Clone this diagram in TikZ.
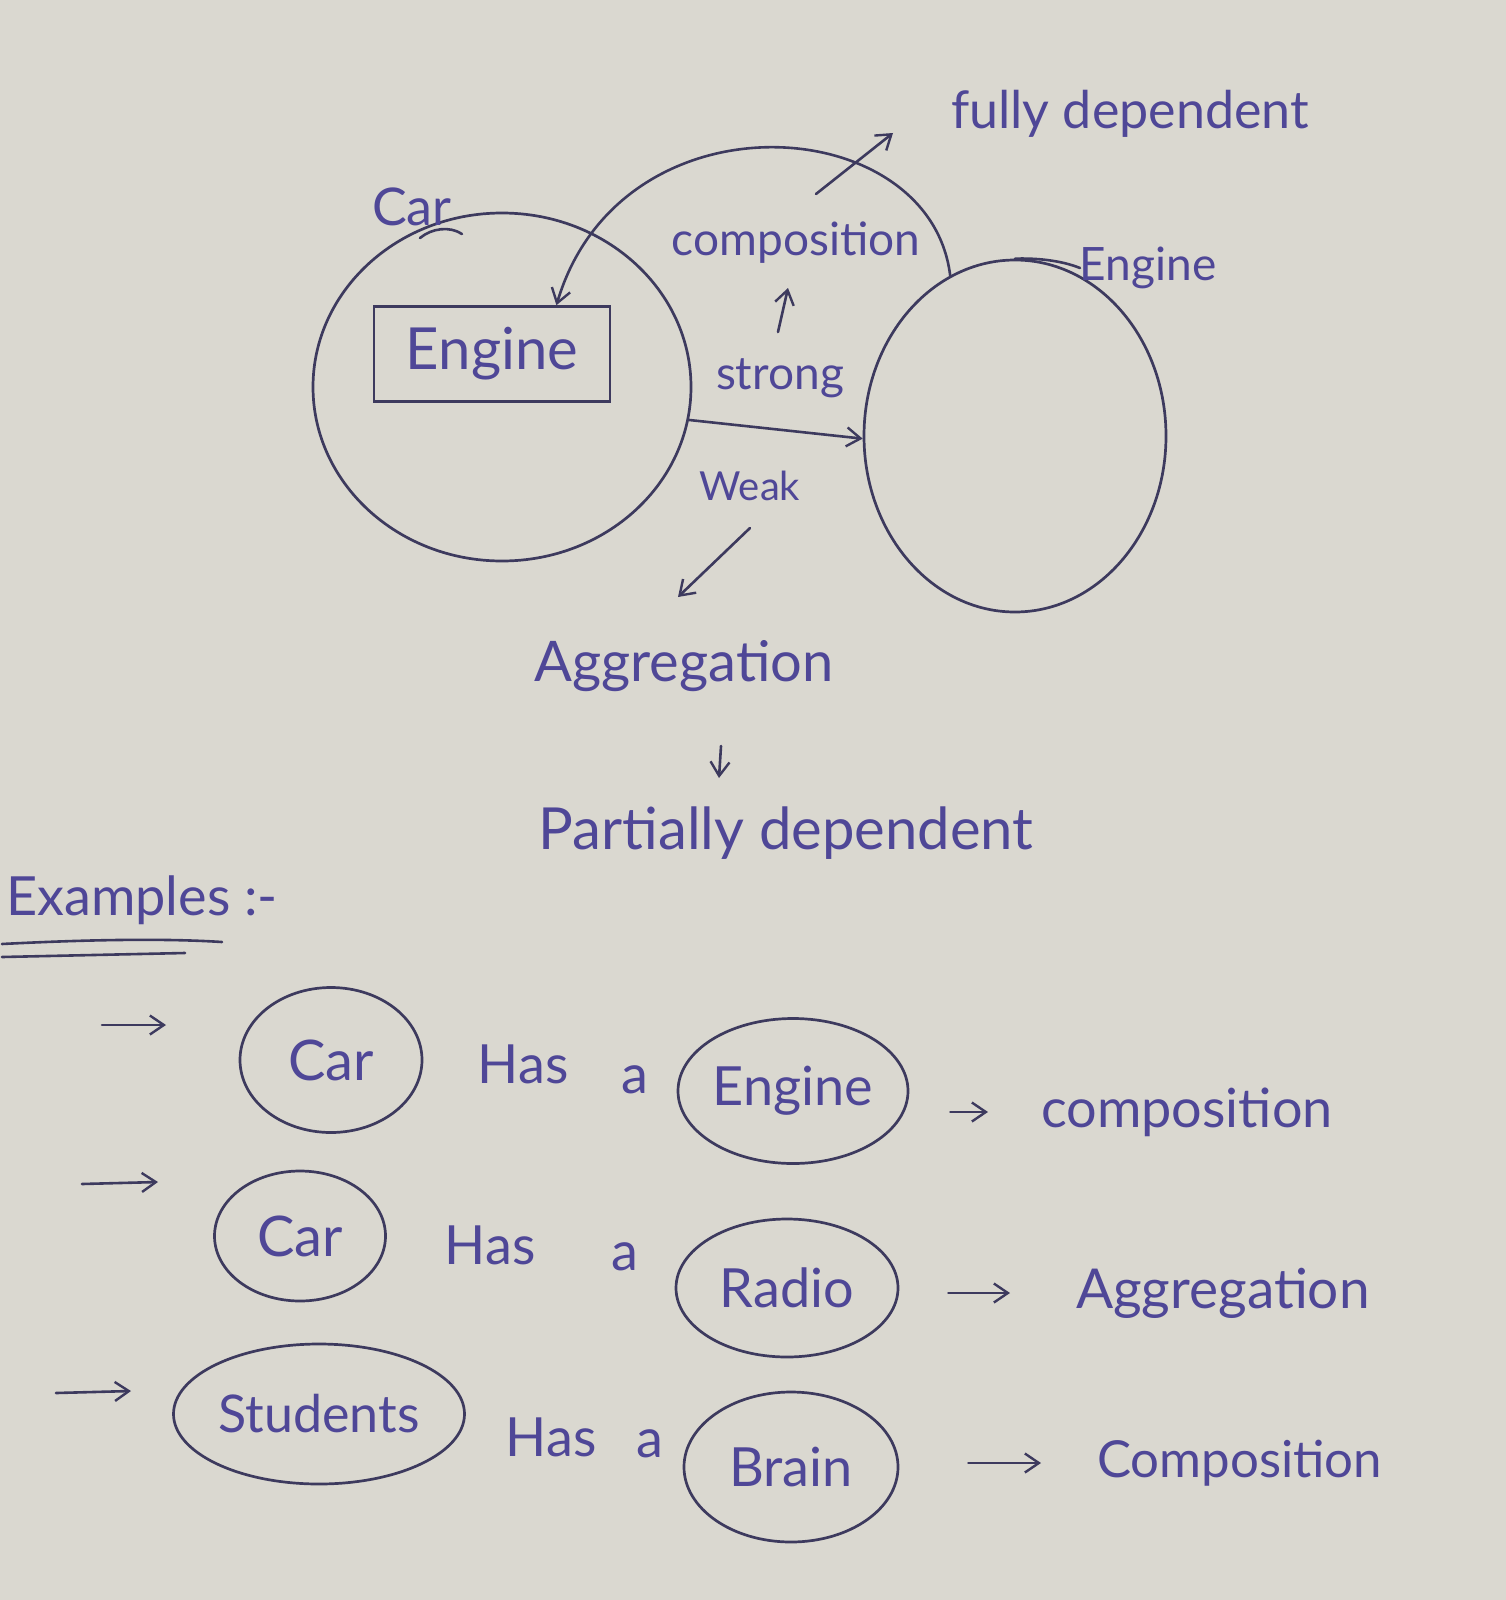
\documentclass[tikz,border=0pt]{standalone}
\usepackage{fontspec}
\setmainfont{Lato}
\usetikzlibrary{shapes.geometric,arrows.meta,calc}
\definecolor{paper}{HTML}{DAD8D0}
\definecolor{ink}{HTML}{4F4797}
\definecolor{pen}{HTML}{3D3A5E}

\begin{document}
\begin{tikzpicture}[x=1pt,y=-1pt,
  hand/.style={text=ink, inner sep=0pt, font=\fontsize{#1}{#1}\selectfont},
  hand/.default=52,
  blob/.style={ellipse, draw=pen, line width=2.7pt, inner sep=0pt},
  stroke/.style={draw=pen, line width=2.6pt, line cap=round, line join=round},
  tip/.style={-{Straight Barb[length=14pt,width=19pt,line width=2.4pt]}}]

\fill[paper] (0,0) rectangle (1506,1600);
\useasboundingbox (0,0) rectangle (1506,1600);

% ---- whole and part ----
\node[blob, minimum width=378pt, minimum height=348pt] (car) at (502,387) {};
\node[blob, minimum width=302pt, minimum height=352pt] (eng) at (1015,436) {};
\node[draw=pen, line width=2.6pt, minimum width=236pt, minimum height=95pt,
      hand=58] (box) at (492,354) {Engine};
\node[hand=52] (carlbl) at (412,207) {Car};
\node[hand=46] (englbl) at (1148,268) {Engine};
\node[hand=46] (comp) at (796,243) {composition};
\node[hand=46] (strong) at (780,378) {strong};
\node[hand=40] (weak) at (750,486) {Weak};
\node[hand=52] (fully) at (1130,114) {fully dependent};
\node[hand=56] (agg) at (684,666) {Aggregation};
\node[hand=58] (partial) at (786,833) {Partially dependent};

% pen strokes tying the labels to their circles
\draw[stroke] (420,238) .. controls (432,228) and (450,226) .. (462,234);
\draw[stroke] (eng.north) .. controls (1035,258) and (1060,260) .. (1080,268);

% composition: the part lives inside the whole
\coordinate (boxtop) at ($(box.north west)!0.77!(box.north east)$);
\draw[stroke, tip] (eng.112) .. controls (930,110) and (620,90) .. (boxtop);
\coordinate (fdA) at (816,194);
\coordinate (fdB) at (893,133);
\draw[stroke, tip] (fdA) -- (fdB);

\coordinate (upA) at (778,332);
\coordinate (upB) at (788,288);
\draw[stroke, tip] (upA) -- (upB);

\draw[stroke, tip] (car.-10) -- (eng.181);

\coordinate (wkA) at (750,528);
\coordinate (wkB) at (678,597);
\draw[stroke, tip] (wkA) -- (wkB);

\coordinate (dnA) at (721,746);
\coordinate (dnB) at (719,778);
\draw[stroke, tip] (dnA) -- (dnB);

% ---- examples ----
\node[hand=54, anchor=west] (ex) at (6,900) {Examples :-};
\draw[stroke] (2,944) .. controls (80,940) and (160,938) .. (222,942);
\draw[stroke] (2,957) -- (185,953);

\node[blob, minimum width=182pt, minimum height=145pt, hand=56] (c1) at (331,1060) {Car};
\node[blob, minimum width=230pt, minimum height=145pt, hand=54] (e1) at (793,1091) {Engine};
\node[blob, minimum width=171pt, minimum height=130pt, hand=56] (c2) at (300,1236) {Car};
\node[blob, minimum width=222pt, minimum height=138pt, hand=54] (r2) at (787,1288) {Radio};
\node[blob, minimum width=291pt, minimum height=140pt, hand=52] (s3) at (319,1414) {Students};
\node[blob, minimum width=214pt, minimum height=150pt, hand=54] (b3) at (791,1467) {Brain};

\node[hand=54] (h1) at (523,1064) {Has};
\node[hand=54] (a1) at (635,1080) {a};
\node[hand=54] (h2) at (490,1245) {Has};
\node[hand=54] (a2) at (625,1257) {a};
\node[hand=54] (h3) at (551,1437) {Has};
\node[hand=54] (a3) at (650,1444) {a};

\node[hand=54, anchor=west] (l1) at (1041,1112) {composition};
\node[hand=55, anchor=west] (l2) at (1076,1293) {Aggregation};
\node[hand=51, anchor=west] (l3) at (1097,1463) {Composition};

\draw[stroke, tip, shorten <=41pt, shorten >=53pt] (e1.east |- l1.west) -- (l1.west);
\draw[stroke, tip, shorten <=49pt, shorten >=66pt] (r2.east |- l2.west) -- (l2.west);
\draw[stroke, tip, shorten <=69pt, shorten >=56pt] (b3.east |- l3.west) -- (l3.west);

% bullet arrows
\coordinate (p1) at (102,1025); \coordinate (q1) at (166,1025);
\coordinate (p2) at (82,1184);  \coordinate (q2) at (158,1182);
\coordinate (p3) at (56,1393);  \coordinate (q3) at (131,1391);
\draw[stroke, tip] (p1) -- (q1);
\draw[stroke, tip] (p2) -- (q2);
\draw[stroke, tip] (p3) -- (q3);
\end{tikzpicture}
\end{document}
